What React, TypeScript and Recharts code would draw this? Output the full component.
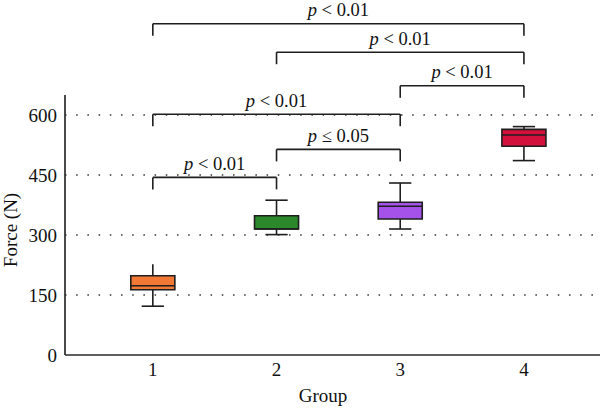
import React from 'react';
import {
  ComposedChart,
  XAxis,
  YAxis,
  ReferenceArea,
  ReferenceLine,
  Scatter,
} from 'recharts';

// Box-plot summary per group (Force in N)
const groups = [1, 2, 3, 4];
const whiskerLow = [122, 301, 315, 486];
const quartile1 = [163, 315, 340, 522];
const medians = [173, 315, 372, 550];
const quartile3 = [198, 348, 382, 564];
const whiskerHigh = [227, 387, 430, 571];
const topCap = [false, true, true, true];
const boxColors = ['#F27935', '#2B892B', '#A552EA', '#D30F3C'];

// Axis ticks and dotted guide levels
const yTicks = [0, 150, 300, 450, 600];
const xTicks = [1, 2, 3, 4];
const gridLevels = [150, 300, 450, 600];

// Significance brackets between groups
const bracketFrom = [1, 2, 1, 3, 2, 1];
const bracketTo = [2, 3, 3, 4, 4, 4];
const bracketLevel = [444, 514, 602, 673, 757, 828];
const bracketOp = ['<', '≤', '<', '<', '<', '<'];
const bracketP = ['0.01', '0.05', '0.01', '0.01', '0.01', '0.01'];

const FONT = '"Liberation Serif", "Times New Roman", serif';
const INK = '#1e1e1e';
const BOX_HALF = 0.178;
const CAP_HALF = 0.09;
const LEG = 30;

const chartData = groups.map((g, i) => ({ group: g, median: medians[i] }));

const PLabel = (props: any) => {
  const { viewBox, op, val } = props;
  if (!viewBox) return null;
  const cx = viewBox.x + viewBox.width / 2;
  const y = viewBox.y - 7.5;
  return (
    <text x={cx} y={y} textAnchor="middle" fontFamily={FONT} fontSize={18.5} fill="#111">
      <tspan fontStyle="italic">p</tspan>
      {` ${op} ${val}`}
    </text>
  );
};

const YLabel = (props: any) => {
  const { viewBox } = props;
  if (!viewBox) return null;
  const cy = viewBox.y + viewBox.height / 2 + 5;
  return (
    <text
      x={17}
      y={cy}
      transform={`rotate(-90 17 ${cy})`}
      textAnchor="middle"
      fontFamily={FONT}
      fontSize={19}
      fill="#111"
    >
      Force (N)
    </text>
  );
};

const XLabel = (props: any) => {
  const { viewBox } = props;
  if (!viewBox) return null;
  return (
    <text x={323} y={402} textAnchor="middle" fontFamily={FONT} fontSize={19} fill="#111">
      Group
    </text>
  );
};

const hidden = () => <g />;

export default function App() {
  return (
    <div style={{ position: 'absolute', left: 0, top: 0, background: '#fff' }}>
      <ComposedChart
        width={600}
        height={408}
        data={chartData}
        margin={{ top: 95, right: 0, bottom: 0, left: 0 }}
      >
        <XAxis
          type="number"
          dataKey="group"
          domain={[0.29, 4.615]}
          ticks={xTicks}
          allowDataOverflow
          tickLine={false}
          axisLine={{ stroke: '#2a2a2a', strokeWidth: 1.7 }}
          tick={{ fill: '#111', fontSize: 19, fontFamily: FONT }}
          height={53}
          label={<XLabel />}
        />
        <YAxis
          type="number"
          domain={[0, 650]}
          ticks={yTicks}
          allowDataOverflow
          tickLine={false}
          axisLine={{ stroke: '#2a2a2a', strokeWidth: 1.7 }}
          tick={{ fill: '#111', fontSize: 19, fontFamily: FONT }}
          width={65}
          label={<YLabel />}
        />
        <Scatter dataKey="median" shape={hidden} isAnimationActive={false} />

        {gridLevels.map((v) => (
          <ReferenceLine
            key={`grid-${v}`}
            y={v}
            stroke="#333"
            strokeWidth={1.5}
            strokeDasharray="1.5 9.7"
          />
        ))}

        {groups.map((g, i) => (
          <ReferenceLine
            key={`wl-${g}`}
            segment={[
              { x: g, y: whiskerLow[i] },
              { x: g, y: quartile1[i] },
            ]}
            stroke={INK}
            strokeWidth={1.6}
          />
        ))}
        {groups.map((g, i) => (
          <ReferenceLine
            key={`wh-${g}`}
            segment={[
              { x: g, y: quartile3[i] },
              { x: g, y: whiskerHigh[i] },
            ]}
            stroke={INK}
            strokeWidth={1.6}
          />
        ))}
        {groups.map((g, i) => (
          <ReferenceLine
            key={`cl-${g}`}
            segment={[
              { x: g - CAP_HALF, y: whiskerLow[i] },
              { x: g + CAP_HALF, y: whiskerLow[i] },
            ]}
            stroke={INK}
            strokeWidth={1.6}
          />
        ))}
        {groups.map((g, i) =>
          topCap[i] ? (
            <ReferenceLine
              key={`ch-${g}`}
              segment={[
                { x: g - CAP_HALF, y: whiskerHigh[i] },
                { x: g + CAP_HALF, y: whiskerHigh[i] },
              ]}
              stroke={INK}
              strokeWidth={1.6}
            />
          ) : null
        )}
        {groups.map((g, i) => (
          <ReferenceArea
            key={`box-${g}`}
            x1={g - BOX_HALF}
            x2={g + BOX_HALF}
            y1={quartile1[i]}
            y2={quartile3[i]}
            fill={boxColors[i]}
            fillOpacity={1}
            stroke={INK}
            strokeWidth={1.6}
          />
        ))}
        {groups.map((g, i) => (
          <ReferenceLine
            key={`med-${g}`}
            segment={[
              { x: g - BOX_HALF, y: medians[i] },
              { x: g + BOX_HALF, y: medians[i] },
            ]}
            stroke={INK}
            strokeWidth={1.6}
          />
        ))}

        {bracketFrom.map((a, i) => (
          <ReferenceLine
            key={`br-${i}`}
            ifOverflow="visible"
            segment={[
              { x: a, y: bracketLevel[i] },
              { x: bracketTo[i], y: bracketLevel[i] },
            ]}
            stroke={INK}
            strokeWidth={1.6}
            label={<PLabel op={bracketOp[i]} val={bracketP[i]} />}
          />
        ))}
        {bracketFrom.map((a, i) => (
          <ReferenceLine
            key={`bl-${i}`}
            ifOverflow="visible"
            segment={[
              { x: a, y: bracketLevel[i] },
              { x: a, y: bracketLevel[i] - LEG },
            ]}
            stroke={INK}
            strokeWidth={1.6}
          />
        ))}
        {bracketTo.map((b, i) => (
          <ReferenceLine
            key={`bt-${i}`}
            ifOverflow="visible"
            segment={[
              { x: b, y: bracketLevel[i] },
              { x: b, y: bracketLevel[i] - LEG },
            ]}
            stroke={INK}
            strokeWidth={1.6}
          />
        ))}
      </ComposedChart>
    </div>
  );
}
